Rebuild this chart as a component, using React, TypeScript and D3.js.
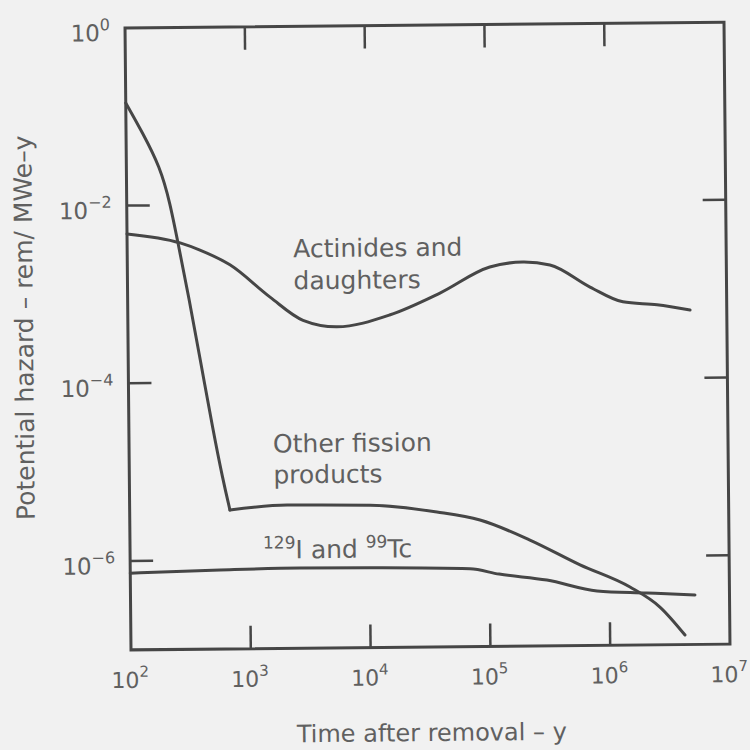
import React from 'react';
import * as d3 from 'd3';

const W = 750;
const H = 750;
// plot frame (before the small tilt of the scanned page)
const frame = { left: 128, right: 727, top: 25, bottom: 647 };
const tilt = -0.55;
const pivot = [428, 336];

const xDecades = [2, 3, 4, 5, 6, 7];
const yDecades = [0, -2, -4, -6];

// [years after removal, rem/MWe-y]
const actinides: [number, number][] = [
  [100, 4.8e-3], [277, 3.75e-3], [405, 3.1e-3], [719, 2.1e-3], [1545, 9.0e-4],
  [2900, 4.9e-4], [5560, 4.1e-4], [15300, 5.5e-4], [40500, 9.6e-4], [106000, 1.86e-3],
  [201000, 2.1e-3], [337000, 1.93e-3], [725000, 1.08e-3], [1.36e6, 7.3e-4],
  [2.62e6, 6.7e-4], [4.94e6, 5.8e-4],
];

const otherFission: [number, number][] = [
  [100, 0.143], [138, 0.065], [191, 0.027], [230, 0.0106], [266, 0.00375],
  [325, 9.0e-4], [397, 1.9e-4], [504, 2.9e-5], [604, 8.0e-6], [687, 3.66e-6],
  [2060, 4.1e-6], [10200, 4.0e-6], [36700, 3.3e-6], [83800, 2.65e-6],
  [218000, 1.56e-6], [569000, 8.1e-7], [1.48e6, 4.5e-7], [2.62e6, 2.66e-7],
  [4.22e6, 1.28e-7],
];
const kneeIndex = 9; // sharp corner where the steep drop meets the plateau

const iodineTc: [number, number][] = [
  [100, 7.3e-7], [562, 7.75e-7], [2610, 8.0e-7], [10000, 7.9e-7], [68500, 7.5e-7],
  [120000, 6.5e-7], [300000, 5.5e-7], [785000, 4.1e-7], [2.05e6, 3.84e-7],
  [5.15e6, 3.6e-7],
];

const ink = '#464646';
const textInk = '#606060';
const font = '"DejaVu Sans", sans-serif';

const x = d3.scaleLog().domain([1e2, 1e7]).range([frame.left, frame.right]);
const y = d3.scaleLog().domain([1, 1e-7]).range([frame.top, frame.bottom]);

const line = d3
  .line<[number, number]>()
  .x((d) => x(d[0]))
  .y((d) => y(d[1]))
  .curve(d3.curveMonotoneX);

// the steep drop reads smoother with a b-spline
const steepLine = d3
  .line<[number, number]>()
  .x((d) => x(d[0]))
  .y((d) => y(d[1]))
  .curve(d3.curveBasis);

const sup = (e: number) => (e < 0 ? `\u2212${-e}` : `${e}`);

export default function App() {
  const tickLen = 23;
  const innerX = xDecades.slice(1, -1);
  const innerY = yDecades.slice(1);

  return (
    <svg
      width={W}
      height={H}
      style={{ position: 'absolute', left: 0, top: 0, background: '#f1f1f1' }}
      fontFamily={font}
    >
      <rect width={W} height={H} fill="#f1f1f1" />
      <g transform={`rotate(${tilt}, ${pivot[0]}, ${pivot[1]})`}>
        {/* frame */}
        <rect
          x={frame.left}
          y={frame.top}
          width={frame.right - frame.left}
          height={frame.bottom - frame.top}
          fill="none"
          stroke={ink}
          strokeWidth={3}
        />

        {/* inward ticks on all four sides */}
        {innerX.map((d) => (
          <g key={`xt${d}`} stroke={ink} strokeWidth={2.5}>
            <line x1={x(10 ** d)} x2={x(10 ** d)} y1={frame.bottom} y2={frame.bottom - tickLen} />
            <line x1={x(10 ** d)} x2={x(10 ** d)} y1={frame.top} y2={frame.top + tickLen} />
          </g>
        ))}
        {innerY.map((d) => (
          <g key={`yt${d}`} stroke={ink} strokeWidth={2.5}>
            <line x1={frame.left} x2={frame.left + tickLen} y1={y(10 ** d)} y2={y(10 ** d)} />
            <line x1={frame.right} x2={frame.right - tickLen} y1={y(10 ** d)} y2={y(10 ** d)} />
          </g>
        ))}

        {/* tick labels */}
        {xDecades.map((d) => (
          <text key={`xl${d}`} x={x(10 ** d) - 1} y={685} textAnchor="middle" fill={textInk} fontSize={22}>
            10
            <tspan dy={-11} fontSize={15}>{sup(d)}</tspan>
          </text>
        ))}
        {yDecades.map((d) => (
          <text key={`yl${d}`} x={113} y={y(10 ** d) + 13} textAnchor="end" fill={textInk} fontSize={23}>
            10
            <tspan dy={-11} fontSize={16}>{sup(d)}</tspan>
          </text>
        ))}

        {/* axis titles */}
        <text x={428} y={741} textAnchor="middle" fill={textInk} fontSize={24}>
          Time after removal – y
        </text>
        <text
          transform="translate(33, 324) rotate(-90)"
          textAnchor="middle"
          fill={textInk}
          fontSize={25}
        >
          Potential hazard – rem/ MWe–y
        </text>

        {/* curves */}
        <g fill="none" stroke={ink} strokeWidth={3} strokeLinejoin="round" strokeLinecap="round">
          <path d={line(actinides) ?? ''} />
          <path d={steepLine(otherFission.slice(0, kneeIndex + 1)) ?? ''} />
          <path d={line(otherFission.slice(kneeIndex)) ?? ''} />
          <path d={line(iodineTc) ?? ''} />
        </g>

        {/* curve labels */}
        <g fill={textInk} fontSize={25}>
          <text x={294} y={256}>Actinides and</text>
          <text x={294} y={288}>daughters</text>
          <text x={272} y={451}>Other fission</text>
          <text x={272} y={482}>products</text>
          <text x={261} y={557}>
            <tspan dy={-10} fontSize={17}>129</tspan>
            <tspan dy={10}>I and </tspan>
            <tspan dy={-10} fontSize={17}>99</tspan>
            <tspan dy={10}>Tc</tspan>
          </text>
        </g>
      </g>
    </svg>
  );
}
